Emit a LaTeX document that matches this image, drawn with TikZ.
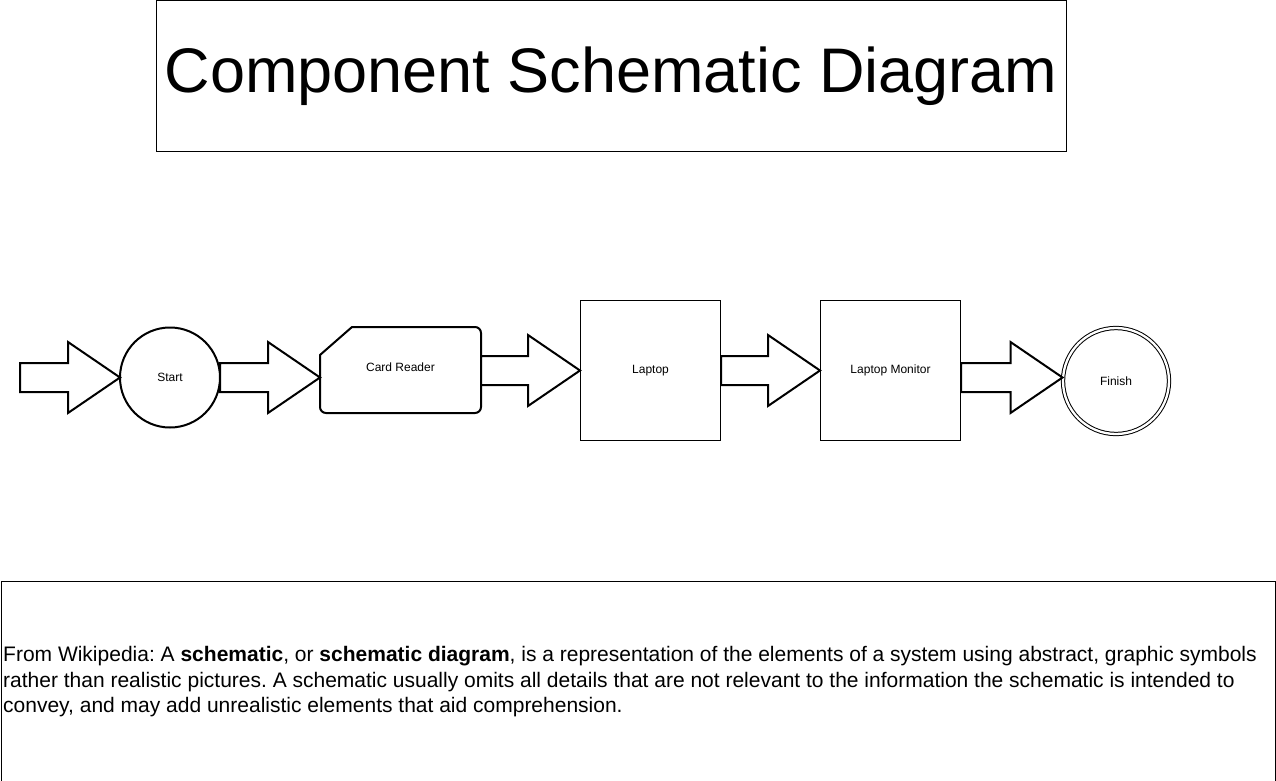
\documentclass[tikz,border=0pt]{standalone}
\usepackage{fontspec}
\setmainfont{Liberation Sans}
\usetikzlibrary{calc}
\frenchspacing
\newcommand\blockarr[2]{%
  \draw[barrow] let \p1=(#1), \p2=(#2), \n1={\x2-52pt} in
    (\x1,\y2+14.5pt) -- (\n1,\y2+14.5pt) -- (\n1,\y2+35.5pt) -- (\p2)
    -- (\n1,\y2-35.5pt) -- (\n1,\y2-14.5pt) -- (\x1,\y2-14.5pt) -- cycle;}
\begin{document}
\begin{tikzpicture}[x=1pt,y=-1pt,
  lbl/.style={font=\fontsize{12}{14}\selectfont},
  box/.style={draw, line width=1pt, minimum width=140pt, minimum height=140pt, inner sep=0pt, lbl},
  barrow/.style={draw, line width=2pt, fill=white, line join=miter}]
\useasboundingbox (0,0) rectangle (1276,781);
% title
\node[draw, line width=1pt, minimum width=910pt, minimum height=150pt, inner sep=0pt,
      anchor=north west, font=\fontsize{63}{75}\selectfont] (title) at (155.5,0.5)
      {Component Schematic Diagram};
% nodes
\coordinate (in1) at (20,377.5);
\node[circle, draw, line width=2pt, minimum size=100pt, inner sep=0pt, outer sep=0pt, lbl] (start) at (170,377.5) {Start};
\draw[line width=2pt] (320,355) -- (352,327) -- (475,327)
   .. controls (478.3,327) and (481,329.7) .. (481,333) -- (481,407)
   .. controls (481,410.3) and (478.3,413) .. (475,413) -- (326,413)
   .. controls (322.7,413) and (320,410.3) .. (320,407) -- cycle;
\node[minimum width=161pt, minimum height=86pt, inner sep=0pt, outer sep=0pt] (card) at (400.5,370) {};
\node[lbl] (cardlbl) at (400.5,367.5) {Card Reader};
\node[box] (laptop) at (650.5,370.5) {Laptop};
\node[box] (monitor) at (890.5,370.5) {Laptop Monitor};
\node[circle, draw, line width=1pt, double, double distance=2.3pt, minimum size=106pt, inner sep=0pt, lbl] (finish) at (1116,381) {Finish};
% block arrows
\blockarr{in1}{start.west}
\blockarr{start.east}{card.west |- start.center}
\blockarr{card.east}{laptop.west}
\blockarr{laptop.east}{monitor.west}
\blockarr{monitor.east}{finish.west |- start.center}
% bottom text box
\node[draw, line width=1pt, minimum width=1274pt, minimum height=200pt, inner sep=0pt,
      anchor=north west] (wiki) at (0.5,580.5) {};
\node[anchor=west, align=left, inner sep=0pt, font=\fontsize{21}{25.5}\selectfont] (wikitext) at (3,682)
  {From Wikipedia: A \textbf{schematic}, or \textbf{schematic diagram}, is a representation of the elements of a system using abstract, graphic symbols\\
   rather than realistic pictures. A schematic usually omits all details that are not relevant to the information the schematic is intended to\\
   convey, and may add unrealistic elements that aid comprehension.};
\end{tikzpicture}
\end{document}
